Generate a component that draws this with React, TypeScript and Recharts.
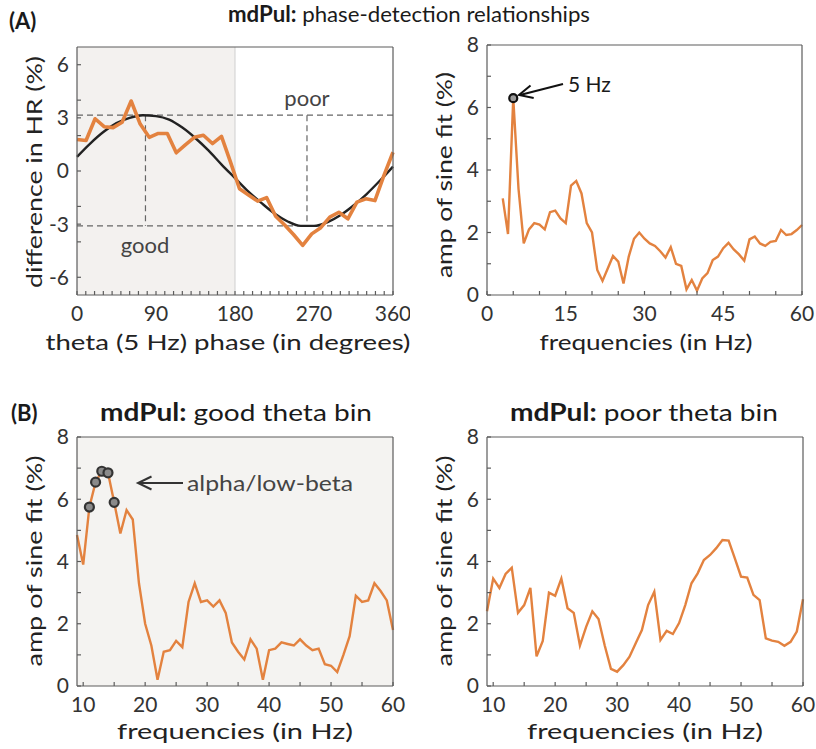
import { ComposedChart, Line, XAxis, YAxis, ReferenceArea, ReferenceLine } from 'recharts'

const ORANGE = '#e3823f'
const AXIS = '#5c5c5c'
const FONT = 'Lato, "Open Sans", sans-serif'

// (A) left: heart-rate difference per theta phase bin, with its sine fit
const phaseBins = [
  0, 10.3, 20.6, 30.9, 41.1, 51.4, 61.7, 72, 82.3, 92.6, 102.9, 113.1, 123.4, 133.7, 144, 154.3, 164.6, 174.9,
  185.1, 195.4, 205.7, 216, 226.3, 236.6, 246.9, 257.1, 267.4, 277.7, 288, 298.3, 308.6, 318.9, 329.1, 339.4, 349.7, 360
]
const hrDiff = [
  1.78, 1.72, 2.95, 2.5, 2.45, 2.75, 3.95, 2.65, 1.9, 2.12, 2.12, 1.03, 1.48, 1.9, 2.02, 1.55, 1.95, 0.5,
  -1.0, -1.35, -1.7, -1.5, -2.55, -3.05, -3.6, -4.2, -3.55, -3.2, -2.6, -2.33, -2.7, -1.76, -1.57, -1.67, -0.25, 1.06
]
const fitPhases = [0, 15, 30, 45, 60, 75, 90, 105, 120, 135, 150, 165, 180, 195, 210, 225, 240, 255, 270, 285, 300, 315, 330, 345, 360]
const fitValues = [
  0.8, 1.55, 2.2, 2.7, 3.0, 3.15, 3.1, 2.9, 2.45, 1.85, 1.15, 0.35, -0.4, -1.15, -1.8, -2.4, -2.85, -3.1, -3.1,
  -2.9, -2.5, -1.95, -1.3, -0.55, 0.25
]
const fitPeak = { phase: 78, value: 3.15 }
const fitTrough = { phase: 262, value: -3.1 }

// (A) right: sine-fit amplitude per frequency
const freqAll = [
  3, 4, 5, 6, 7, 8, 9, 10, 11, 12, 13, 14, 15, 16, 17, 18, 19, 20, 21, 22, 23, 24, 25, 26, 27, 28, 29, 30, 31, 32,
  33, 34, 35, 36, 37, 38, 39, 40, 41, 42, 43, 44, 45, 46, 47, 48, 49, 50, 51, 52, 53, 54, 55, 56, 57, 58, 59, 60
]
const ampAll = [
  3.09, 1.95, 6.3, 3.4, 1.65, 2.1, 2.3, 2.25, 2.1, 2.65, 2.7, 2.45, 2.3, 3.5, 3.65, 3.25, 2.3, 2.0, 0.8, 0.45,
  0.85, 1.25, 1.07, 0.37, 1.23, 1.8, 2.0, 1.8, 1.65, 1.57, 1.4, 1.2, 1.53, 1.0, 0.93, 0.18, 0.48, 0.14, 0.53, 0.7,
  1.12, 1.23, 1.5, 1.67, 1.46, 1.3, 1.1, 1.78, 1.87, 1.65, 1.57, 1.7, 1.73, 2.08, 1.92, 1.95, 2.08, 2.24
]
const thetaPeak = [5]

// (B): sine-fit amplitude per frequency in the good / poor theta bins
const freqBin = [
  9, 10, 11, 12, 13, 14, 15, 16, 17, 18, 19, 20, 21, 22, 23, 24, 25, 26, 27, 28, 29, 30, 31, 32, 33, 34,
  35, 36, 37, 38, 39, 40, 41, 42, 43, 44, 45, 46, 47, 48, 49, 50, 51, 52, 53, 54, 55, 56, 57, 58, 59, 60
]
const ampGood = [
  4.85, 3.9, 5.75, 6.55, 6.9, 6.85, 5.9, 4.9, 5.65, 5.35, 3.3, 2.0, 1.3, 0.2, 1.1, 1.15, 1.45, 1.25, 2.7, 3.3,
  2.7, 2.75, 2.55, 2.75, 2.35, 1.4, 1.1, 0.85, 1.5, 1.2, 0.2, 1.15, 1.2, 1.4, 1.35, 1.3, 1.5, 1.3, 1.15, 1.2,
  0.7, 0.65, 0.45, 1.0, 1.6, 2.9, 2.7, 2.75, 3.3, 3.05, 2.75, 1.8
]
const ampPoor = [
  2.4, 3.45, 3.15, 3.6, 3.8, 2.35, 2.6, 3.15, 0.95, 1.45, 3.0, 2.9, 3.45, 2.5, 2.35, 1.3, 1.9, 2.4, 2.15, 1.3,
  0.55, 0.46, 0.67, 0.94, 1.37, 1.8, 2.6, 3.03, 1.48, 1.77, 1.67, 2.02, 2.6, 3.3, 3.62, 4.05, 4.21, 4.43, 4.69,
  4.67, 4.1, 3.51, 3.48, 2.93, 2.76, 1.53, 1.46, 1.42, 1.29, 1.42, 1.75, 2.79
]
const alphaBand = [11, 12, 13, 14, 15]

// tick sets
const phaseTicks = [0, 10, 20, 30, 40, 50, 60, 70, 80, 90, 100, 110, 120, 130, 140, 150, 160, 170, 180, 190,
  200, 210, 220, 230, 240, 250, 260, 270, 280, 290, 300, 310, 320, 330, 340, 350, 360]
const hrTicksLeft = [-6, -4, -3, -2, 0, 2, 3, 4, 6]
const hrTicksRight = [-6, -4, -2, 0, 2, 4, 6]
const freqTicksA = [0, 5, 10, 15, 20, 25, 30, 35, 40, 45, 50, 55, 60]
const freqTicksB = [10, 15, 20, 25, 30, 35, 40, 45, 50, 55, 60]
const ampTicks = [0, 1, 2, 3, 4, 5, 6, 7, 8]

const toRows = (xs: number[], ys: number[]) => xs.map((x, i) => ({ x, y: ys[i] }))

const tickFont = { fontSize: 21, fill: '#333', fontFamily: FONT }
const axisStroke = { stroke: AXIS, strokeWidth: 1.2 }

type FrameOpts = {
  xDomain: [number, number]
  xTicks: number[]
  xLabels: number[]
  yDomain: [number, number]
  yTicks: number[]
  yLabels: number[]
  yRightTicks: number[]
  bottom: number
}

// four-sided box with inward ticks, labels only on bottom/left
function frameAxes(o: FrameOpts) {
  const fx = (v: number) => (o.xLabels.includes(v) ? String(v) : '')
  const fy = (v: number) => (o.yLabels.includes(v) ? String(v) : '')
  return [
    <XAxis key="xb" type="number" dataKey="x" domain={o.xDomain} ticks={o.xTicks} interval={0}
      tickFormatter={fx} height={o.bottom} axisLine={axisStroke} tickLine={axisStroke}
      tickSize={-4} tickMargin={15} tick={tickFont} />,
    <XAxis key="xt" xAxisId="t" orientation="top" type="number" dataKey="x" domain={o.xDomain}
      ticks={o.xTicks} interval={0} height={1} tick={false} axisLine={axisStroke} tickLine={axisStroke}
      tickSize={-4} />,
    <YAxis key="yl" type="number" domain={o.yDomain} ticks={o.yTicks} interval={0} tickFormatter={fy}
      width={77} axisLine={axisStroke} tickLine={axisStroke} tickSize={-4} tickMargin={12} tick={tickFont} />,
    <YAxis key="yr" yAxisId="r" orientation="right" type="number" domain={o.yDomain} ticks={o.yRightTicks}
      interval={0} width={1} tick={false} axisLine={axisStroke} tickLine={axisStroke} tickSize={-4} />
  ]
}

const ringDot = (keep: number[], r: number, fill: string, stroke: string) => (props: any) => {
  const { cx, cy, payload, index } = props
  if (!keep.includes(payload.x)) return <g key={`d${index}`} />
  return <circle key={`d${index}`} cx={cx} cy={cy} r={r} fill={fill} stroke={stroke} strokeWidth={2.2} />
}

function arrowHead(tipX: number, tipY: number, tailX: number, tailY: number, len = 15, spread = 0.45) {
  const a = Math.atan2(tailY - tipY, tailX - tipX)
  const p1 = [tipX + len * Math.cos(a + spread), tipY + len * Math.sin(a + spread)]
  const p2 = [tipX + len * Math.cos(a - spread), tipY + len * Math.sin(a - spread)]
  return `${p1[0]},${p1[1]} ${tipX},${tipY} ${p2[0]},${p2[1]}`
}

const Title = ({ x, y, bold, rest, len, size = 21 }: { x: number; y: number; bold: string; rest: string; len: number; size?: number }) => (
  <text x={x} y={y} textAnchor="middle" fontFamily={FONT} fontSize={size} fill="#1a1a1a" textLength={len} lengthAdjust="spacingAndGlyphs">
    <tspan fontWeight={700}>{bold}</tspan>
    <tspan>{rest}</tspan>
  </text>
)

const AxisTitle = ({ x, y, text, len, rotate = false }: { x: number; y: number; text: string; len: number; rotate?: boolean }) => (
  <text x={x} y={y} textAnchor="middle" dominantBaseline="middle" fontFamily={FONT} fontSize={22} fill="#222"
    textLength={len} lengthAdjust="spacingAndGlyphs" transform={rotate ? `rotate(-90 ${x} ${y})` : undefined}>
    {text}
  </text>
)

export default function App() {
  const hrRows = toRows(phaseBins, hrDiff)
  const fitRows = toRows(fitPhases, fitValues)
  const allRows = toRows(freqAll, ampAll)
  const goodRows = toRows(freqBin, ampGood)
  const poorRows = toRows(freqBin, ampPoor)

  return (
    <div style={{ position: 'absolute', left: 0, top: 0, width: 816, height: 749, background: '#fff', overflow: 'hidden' }}>
      {/* A, left */}
      <div style={{ position: 'absolute', left: 0, top: 0 }}>
        <ComposedChart width={410} height={370} margin={{ top: 46, right: 16, bottom: 0, left: 0 }}>
          <ReferenceArea x1={0} x2={180} fill="#f3f1ef" fillOpacity={1} stroke="none" />
          <ReferenceLine x={180} stroke="#cfcfcf" strokeWidth={1} />
          <ReferenceLine y={fitPeak.value} stroke="#666" strokeDasharray="6 4" strokeWidth={1.2} />
          <ReferenceLine y={fitTrough.value} stroke="#666" strokeDasharray="6 4" strokeWidth={1.2} />
          <ReferenceLine segment={[{ x: fitPeak.phase, y: fitPeak.value }, { x: fitPeak.phase, y: fitTrough.value }]}
            stroke="#666" strokeDasharray="6 4" strokeWidth={1.2} />
          <ReferenceLine segment={[{ x: fitTrough.phase, y: fitPeak.value }, { x: fitTrough.phase, y: fitTrough.value }]}
            stroke="#666" strokeDasharray="6 4" strokeWidth={1.2} />
          {frameAxes({
            xDomain: [0, 360], xTicks: phaseTicks, xLabels: [0, 90, 180, 270, 360],
            yDomain: [-7, 7], yTicks: hrTicksLeft, yLabels: [-6, -3, 0, 3, 6], yRightTicks: hrTicksRight, bottom: 75
          })}
          <Line data={fitRows} dataKey="y" type="monotone" stroke="#222" strokeWidth={2.4} dot={false} isAnimationActive={false} />
          <Line data={hrRows} dataKey="y" type="linear" stroke={ORANGE} strokeWidth={3.6} dot={false} strokeLinejoin="round" isAnimationActive={false} />
        </ComposedChart>
      </div>

      {/* A, right */}
      <div style={{ position: 'absolute', left: 410, top: 0 }}>
        <ComposedChart width={406} height={370} margin={{ top: 44, right: 13, bottom: 0, left: 0 }}>
          {frameAxes({
            xDomain: [0, 60], xTicks: freqTicksA, xLabels: [0, 15, 30, 45, 60],
            yDomain: [0, 8], yTicks: ampTicks, yLabels: [0, 2, 4, 6, 8], yRightTicks: ampTicks, bottom: 75
          })}
          <Line data={allRows} dataKey="y" type="linear" stroke={ORANGE} strokeWidth={2.4}
            dot={ringDot(thetaPeak, 4, '#9a9a9a', '#111')} activeDot={false} isAnimationActive={false} />
        </ComposedChart>
      </div>

      {/* B, good theta bin */}
      <div style={{ position: 'absolute', left: 0, top: 380 }}>
        <ComposedChart width={410} height={369} margin={{ top: 56, right: 16, bottom: 0, left: 0 }}>
          <ReferenceArea x1={9} x2={60} fill="#f4f3f1" fillOpacity={1} stroke="none" />
          {frameAxes({
            xDomain: [9, 60], xTicks: freqTicksB, xLabels: [10, 20, 30, 40, 50, 60],
            yDomain: [0, 8], yTicks: ampTicks, yLabels: [0, 2, 4, 6, 8], yRightTicks: ampTicks, bottom: 63
          })}
          <Line data={goodRows} dataKey="y" type="linear" stroke={ORANGE} strokeWidth={2.4}
            dot={ringDot(alphaBand, 4.5, '#8a8a8a', '#333')} activeDot={false} isAnimationActive={false} />
        </ComposedChart>
      </div>

      {/* B, poor theta bin */}
      <div style={{ position: 'absolute', left: 410, top: 380 }}>
        <ComposedChart width={406} height={369} margin={{ top: 56, right: 12, bottom: 0, left: 0 }}>
          {frameAxes({
            xDomain: [9, 60], xTicks: freqTicksB, xLabels: [10, 20, 30, 40, 50, 60],
            yDomain: [0, 8], yTicks: ampTicks, yLabels: [0, 2, 4, 6, 8], yRightTicks: ampTicks, bottom: 63
          })}
          <Line data={poorRows} dataKey="y" type="linear" stroke={ORANGE} strokeWidth={2.4} dot={false} isAnimationActive={false} />
        </ComposedChart>
      </div>

      {/* titles, axis names and annotations */}
      <svg width={816} height={749} style={{ position: 'absolute', left: 0, top: 0, pointerEvents: 'none' }}>
        <text x={9} y={29} fontFamily={FONT} fontSize={22} fontWeight={700} fill="#1a1a1a">(A)</text>
        <text x={11} y={421} fontFamily={FONT} fontSize={22} fontWeight={700} fill="#1a1a1a">(B)</text>
        <Title x={409} y={22} bold="mdPul:" rest=" phase-detection relationships" len={362} size={22} />
        <Title x={236} y={421} bold="mdPul:" rest=" good theta bin" len={272} size={24} />
        <Title x={644} y={421} bold="mdPul:" rest=" poor theta bin" len={268} size={24} />

        <AxisTitle x={36} y={172} text="difference in HR (%)" len={232} rotate />
        <AxisTitle x={446} y={175} text="amp of sine fit (%)" len={206} rotate />
        <AxisTitle x={36} y={561} text="amp of sine fit (%)" len={211} rotate />
        <AxisTitle x={446} y={561} text="amp of sine fit (%)" len={211} rotate />
        <AxisTitle x={228} y={344} text="theta (5 Hz) phase (in degrees)" len={365} />
        <AxisTitle x={646} y={344} text="frequencies (in Hz)" len={213} />
        <AxisTitle x={235} y={733} text="frequencies (in Hz)" len={236} />
        <AxisTitle x={645} y={733} text="frequencies (in Hz)" len={236} />

        <text x={145} y={253} textAnchor="middle" fontFamily={FONT} fontSize={22} fill="#444">good</text>
        <text x={307} y={106} textAnchor="middle" fontFamily={FONT} fontSize={22} fill="#444">poor</text>

        <line x1={563} y1={84} x2={520} y2={95} stroke="#111" strokeWidth={2} />
        <polyline points={arrowHead(519, 95, 563, 84)} fill="none" stroke="#111" strokeWidth={2} />
        <text x={568} y={92} fontFamily={FONT} fontSize={21} fill="#1a1a1a">5 Hz</text>

        <line x1={183} y1={483} x2={139} y2={483} stroke="#333" strokeWidth={2} />
        <polyline points={arrowHead(138, 483, 183, 483)} fill="none" stroke="#333" strokeWidth={2} />
        <text x={187} y={491} fontFamily={FONT} fontSize={22} fill="#444" textLength={166} lengthAdjust="spacingAndGlyphs">alpha/low-beta</text>
      </svg>
    </div>
  )
}
